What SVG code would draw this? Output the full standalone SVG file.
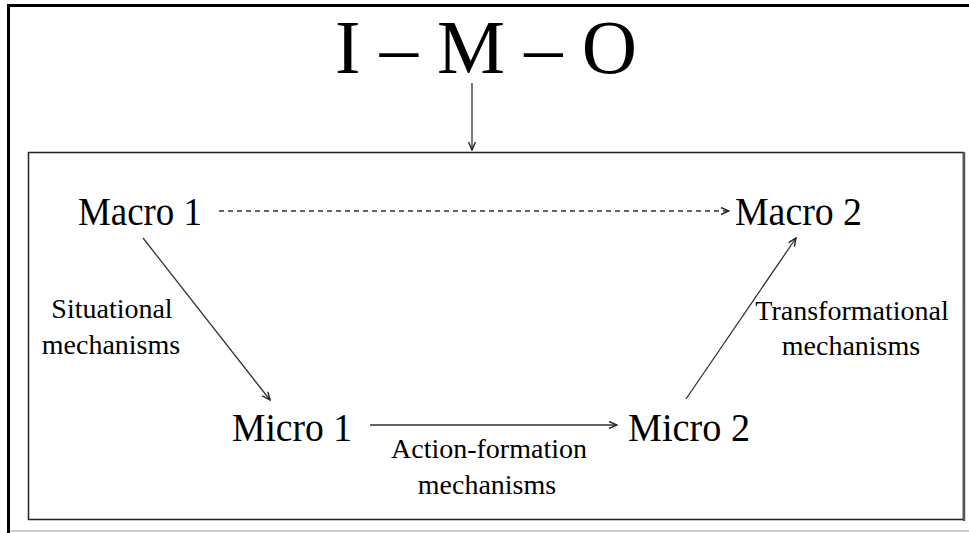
<svg xmlns="http://www.w3.org/2000/svg" width="969" height="533" viewBox="0 0 969 533">
<style>
text{font-family:"Liberation Serif","Times New Roman",serif;fill:#000}
.big{font-size:39px}
.lab{font-size:28px;text-anchor:middle}
.con{stroke:#333;stroke-width:1.3;fill:none}
</style>
<defs>
<marker id="ah" viewBox="0 0 10 8" refX="9" refY="4" markerWidth="10" markerHeight="8" markerUnits="userSpaceOnUse" orient="auto">
<path d="M1,0.5 L9,4 L1,7.5" fill="none" stroke="#222" stroke-width="1.4"/>
</marker>
</defs>
<rect width="969" height="533" fill="#fff"/>
<g id="frame">
<line x1="7" y1="5.5" x2="969" y2="5.5" stroke="#000" stroke-width="3"/>
<line x1="8.5" y1="4" x2="8.5" y2="533" stroke="#000" stroke-width="3"/>
<line x1="10" y1="531" x2="969" y2="531" stroke="#ccc" stroke-width="2"/>
<rect x="28.5" y="152.5" width="935" height="367" fill="none" stroke="#222" stroke-width="1.5"/>
<line x1="964" y1="152" x2="964" y2="521" stroke="#555" stroke-width="2.5"/>
</g>
<g id="title"><text x="486" y="73" font-size="77" text-anchor="middle" textLength="302" lengthAdjust="spacingAndGlyphs">I – M – O</text></g>
<g id="macro1"><text class="big" x="78" y="225" textLength="124" lengthAdjust="spacingAndGlyphs">Macro 1</text></g>
<g id="macro2"><text class="big" x="735" y="225" textLength="127" lengthAdjust="spacingAndGlyphs">Macro 2</text></g>
<g id="micro1"><text class="big" x="232" y="441" textLength="120" lengthAdjust="spacingAndGlyphs">Micro 1</text></g>
<g id="micro2"><text class="big" x="628" y="441" textLength="122" lengthAdjust="spacingAndGlyphs">Micro 2</text></g>
<g id="labels">
<text class="lab" x="112" y="318">Situational</text>
<text class="lab" x="111" y="354">mechanisms</text>
<text class="lab" x="852" y="320">Transformational</text>
<text class="lab" x="851" y="355">mechanisms</text>
<text class="lab" x="489" y="458">Action-formation</text>
<text class="lab" x="487" y="494">mechanisms</text>
</g>
<g id="connectors">
<line class="con" x1="472" y1="83" x2="472" y2="150" marker-end="url(#ah)"/>
<line class="con" x1="219" y1="211" x2="729" y2="211" stroke-dasharray="5,4" marker-end="url(#ah)"/>
<line class="con" x1="143" y1="238" x2="270" y2="400" marker-end="url(#ah)"/>
<line class="con" x1="370" y1="425" x2="617" y2="425" marker-end="url(#ah)"/>
<line class="con" x1="686" y1="399" x2="796" y2="238" marker-end="url(#ah)"/>
</g>
</svg>
